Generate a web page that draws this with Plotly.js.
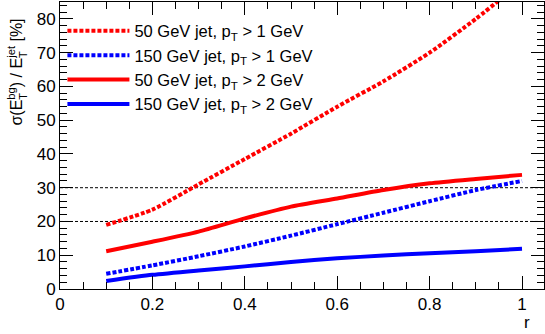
<!DOCTYPE html>
<html>
<head>
<meta charset="utf-8">
<script src="https://cdn.plot.ly/plotly-3.0.1.min.js"></script>
<style>
  html, body { margin: 0; padding: 0; background: #fff; }
  #plot { width: 545px; height: 334px; }
</style>
</head>
<body>
<div id="plot"></div>
<script>
// cone radius r
var radii = [0.1, 0.2, 0.3, 0.4, 0.5, 0.6, 0.7, 0.8, 0.9, 1.0];

// sigma(E_T^bg) / E_T^jet in %
var jet50pt1 = [19, 23.5, 31, 38.5, 46, 54, 61.5, 70, 80, 91];
var jet150pt1 = [4.5, 7, 9.7, 12.6, 15.8, 19.2, 22.6, 26, 29.3, 32];
var jet50pt2 = [11.2, 14.0, 17.0, 20.9, 24.4, 26.8, 29.3, 31.3, 32.6, 33.8];
var jet150pt2 = [2.4, 4.2, 5.5, 6.7, 8.0, 9.1, 9.9, 10.6, 11.2, 11.9];

var names = [
  '50 GeV jet, p<sub>T</sub> > 1 GeV',
  '150 GeV jet, p<sub>T</sub> > 1 GeV',
  '50 GeV jet, p<sub>T</sub> > 2 GeV',
  '150 GeV jet, p<sub>T</sub> > 2 GeV'
];

var refLines = [20, 30];

var fontName = '"Liberation Sans", Arial, sans-serif';

function trace(y, name, color, dash) {
  return {
    x: radii,
    y: y,
    name: name,
    mode: 'lines',
    type: 'scatter',
    line: { color: color, width: 4, dash: dash, shape: 'spline', smoothing: 0.6 }
  };
}

var data = [
  trace(jet50pt1, names[0], '#ff0000', '4px,2px'),
  trace(jet150pt1, names[1], '#0000ff', '4px,2px'),
  trace(jet50pt2, names[2], '#ff0000', 'solid'),
  trace(jet150pt2, names[3], '#0000ff', 'solid')
];

var shapes = refLines.map(function (v) {
  return {
    type: 'line', xref: 'paper', x0: 0, x1: 1, yref: 'y', y0: v, y1: v,
    line: { color: '#000', width: 1, dash: '3px,2px' }, layer: 'below'
  };
});

var axisCommon = {
  showgrid: false,
  zeroline: false,
  showline: true,
  linecolor: '#000',
  linewidth: 1,
  mirror: 'allticks',
  ticks: 'inside',
  tickcolor: '#000',
  ticklen: 13,
  tickwidth: 1,
  tickfont: { family: fontName, size: 17, color: '#000' }
};

// y title: T subscripts stacked under the superscripts
var plotH = 334 - 2 - 45;
var titleSize = 16, scriptSize = 11;
var titleBottom = 127; // px from top
var ctx = document.createElement('canvas').getContext('2d');
function textW(s, size) {
  ctx.font = size + 'px "Liberation Sans"';
  return ctx.measureText(s).width;
}
var off1 = textW('σ(E', titleSize);
var off2 = off1 + textW('bg', scriptSize) + textW(') / E', titleSize);
function pxToPaperY(py) { return (334 - 45 - py) / plotH; }
var titleX = -(60 - 16) / 484;
var subX = -(60 - 23) / 484;

var annotations = [
  {
    text: 'σ(E<sup>bg</sup>) / E<sup>jet</sup> [%]',
    xref: 'paper', yref: 'paper',
    x: titleX, y: pxToPaperY(titleBottom), xanchor: 'center', yanchor: 'bottom',
    textangle: -90, showarrow: false, borderpad: 0,
    font: { family: fontName, size: titleSize, color: '#000' }
  },
  {
    text: 'r',
    xref: 'paper', yref: 'paper',
    x: 0.975, y: -0.115, xanchor: 'right', yanchor: 'middle',
    showarrow: false,
    font: { family: fontName, size: 17, color: '#000' }
  }
];
[off1, off2].forEach(function (o) {
  annotations.push({
    text: 'T',
    xref: 'paper', yref: 'paper',
    x: subX, y: pxToPaperY(titleBottom - o), xanchor: 'center', yanchor: 'bottom',
    textangle: -90, showarrow: false, borderpad: 0,
    font: { family: fontName, size: scriptSize, color: '#000' }
  });
});

var layout = {
  width: 545,
  height: 334,
  margin: { l: 60, r: 1, t: 2, b: 45 },
  paper_bgcolor: '#fff',
  plot_bgcolor: '#fff',
  font: { family: fontName, color: '#000' },
  showlegend: true,
  legend: {
    x: 0.005, y: 0.96, xanchor: 'left', yanchor: 'top',
    bgcolor: 'rgba(0,0,0,0)',
    font: { family: fontName, size: 16.5, color: '#000' },
    itemwidth: 62
  },
  xaxis: Object.assign({}, axisCommon, {
    range: [0, 1.0476],
    dtick: 0.2,
    tick0: 0,
    minor: { dtick: 0.05, ticks: 'inside', ticklen: 7, tickcolor: '#000', showgrid: false }
  }),
  yaxis: Object.assign({}, axisCommon, {
    range: [0, 85],
    dtick: 10,
    minor: { dtick: 2, ticks: 'inside', ticklen: 7, tickcolor: '#000', showgrid: false }
  }),
  shapes: shapes,
  annotations: annotations
};

Plotly.newPlot('plot', data, layout, { staticPlot: true });
</script>
</body>
</html>
